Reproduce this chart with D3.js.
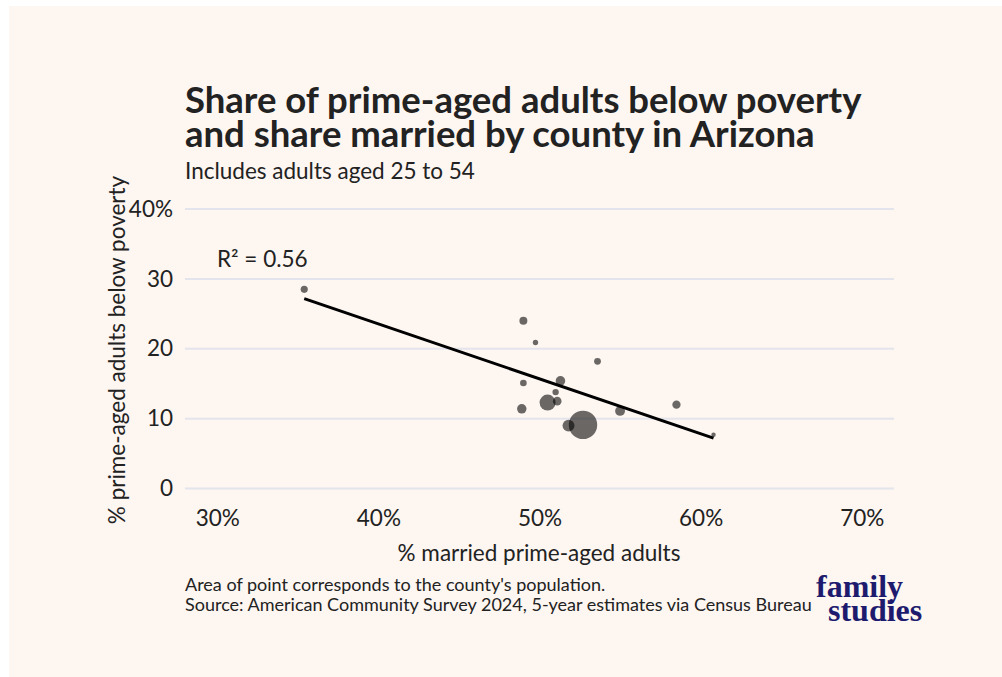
<!DOCTYPE html>
<html>
<head>
<meta charset="utf-8">
<script src="https://cdn.jsdelivr.net/npm/d3@7"></script>
<style>
  body { margin: 0; background: #fff; }
  svg text { font-family: Lato, "Open Sans", sans-serif; fill: #222; }
</style>
</head>
<body>
<div id="chart"></div>
<script>
// Arizona counties
var counties = ["Apache", "Navajo", "La Paz", "Gila", "Mohave", "Santa Cruz", "Graham", "Pima",
  "Coconino", "Yuma", "Yavapai", "Cochise", "Pinal", "Maricopa", "Greenlee"];
var married = [35.4, 49.0, 49.75, 53.6, 51.3, 49.0, 51.0, 50.5, 51.1, 48.9, 55.0, 58.5, 51.8, 52.7, 60.8];
var poverty = [28.5, 24.0, 20.9, 18.2, 15.4, 15.1, 13.8, 12.3, 12.5, 11.4, 11.1, 12.0, 9.0, 9.1, 7.7];
var population = [66000, 107000, 16000, 54000, 215000, 48000, 39000, 1050000,
  145000, 207000, 240000, 125000, 450000, 4490000, 9000];

var xTicks = [30, 40, 50, 60, 70];
var yTicks = [0, 10, 20, 30, 40];

var data = counties.map((c, i) => ({county: c, x: married[i], y: poverty[i], pop: population[i]}));

var width = 1002, height = 677;

var svg = d3.select("#chart").append("svg")
  .attr("width", width)
  .attr("height", height);

// cream panel
svg.append("rect")
  .attr("x", 9).attr("y", 6)
  .attr("width", width - 9).attr("height", height - 6)
  .attr("fill", "#fdf6f1");

var xScale = d3.scaleLinear().domain([28, 72]).range([185, 894]);
var yScale = d3.scaleLinear().domain([0, 40]).range([488.5, 209]);

var popMin = d3.min(population), popMax = d3.max(population);
var rScale = d3.scaleSqrt().domain([0, popMax - popMin]).range([0, 12]);
var radius = d => 2.2 + rScale(d.pop - popMin);

// gridlines
svg.append("g")
  .selectAll("line")
  .data(yTicks)
  .join("line")
    .attr("x1", xScale.range()[0])
    .attr("x2", xScale.range()[1])
    .attr("y1", d => yScale(d))
    .attr("y2", d => yScale(d))
    .attr("stroke", "#e4e4ec")
    .attr("stroke-width", 2);

// y axis labels
var yAxis = d3.axisLeft(yScale)
  .tickValues(yTicks)
  .tickSize(0)
  .tickPadding(12)
  .tickFormat(d => d === 40 ? d + "%" : d);

svg.append("g")
  .attr("class", "y axis")
  .attr("transform", `translate(${xScale.range()[0]},0)`)
  .call(yAxis)
  .call(g => g.select(".domain").remove())
  .selectAll("text")
    .style("font-size", "22.5px")
    .attr("fill", "#222");

// x axis labels
var xAxis = d3.axisBottom(xScale)
  .tickValues(xTicks)
  .tickSize(0)
  .tickPadding(0)
  .tickFormat(d => d + "%");

svg.append("g")
  .attr("class", "x axis")
  .attr("transform", `translate(0,510)`)
  .call(xAxis)
  .call(g => g.select(".domain").remove())
  .selectAll("text")
    .style("font-size", "22.5px")
    .attr("fill", "#222");

// points (bigger first so small ones stay visible)
svg.append("g")
  .selectAll("circle")
  .data(data.slice().sort((a, b) => b.pop - a.pop))
  .join("circle")
    .attr("cx", d => xScale(d.x))
    .attr("cy", d => yScale(d.y))
    .attr("r", radius)
    .attr("fill", "#000")
    .attr("fill-opacity", 0.58);

// least squares fit
var mx = d3.mean(data, d => d.x), my = d3.mean(data, d => d.y);
var sxy = d3.sum(data, d => (d.x - mx) * (d.y - my));
var sxx = d3.sum(data, d => (d.x - mx) * (d.x - mx));
var syy = d3.sum(data, d => (d.y - my) * (d.y - my));
var slope = sxy / sxx;
var intercept = my - slope * mx;
var r2 = sxy * sxy / (sxx * syy);
var xExt = d3.extent(data, d => d.x);

svg.append("line")
  .attr("x1", xScale(xExt[0]))
  .attr("y1", yScale(intercept + slope * xExt[0]))
  .attr("x2", xScale(xExt[1]))
  .attr("y2", yScale(intercept + slope * xExt[1]))
  .attr("stroke", "#000")
  .attr("stroke-width", 3);

svg.append("text")
  .attr("x", 217)
  .attr("y", 267)
  .style("font-size", "22.5px")
  .text("R² = " + d3.format(".2f")(r2));

// axis titles
svg.append("text")
  .attr("x", 539)
  .attr("y", 561)
  .attr("text-anchor", "middle")
  .style("font-size", "22.5px")
  .text("% married prime-aged adults");

svg.append("text")
  .attr("transform", "translate(125,350) rotate(-90)")
  .attr("text-anchor", "middle")
  .style("font-size", "22.5px")
  .text("% prime-aged adults below poverty");

// title block
var title = svg.append("text")
  .style("font-size", "36.5px")
  .style("font-weight", 700)
  .attr("fill", "#1a1a1a");
title.append("tspan").attr("x", 185).attr("y", 113).text("Share of prime-aged adults below poverty");
title.append("tspan").attr("x", 185).attr("y", 147).text("and share married by county in Arizona");

svg.append("text")
  .attr("x", 185)
  .attr("y", 179)
  .style("font-size", "22.5px")
  .attr("fill", "#333")
  .text("Includes adults aged 25 to 54");

// caption
var caption = svg.append("text")
  .style("font-size", "18px")
  .attr("fill", "#222");
caption.append("tspan").attr("x", 185).attr("y", 591).text("Area of point corresponds to the county's population.");
caption.append("tspan").attr("x", 185).attr("y", 611).text("Source: American Community Survey 2024, 5-year estimates via Census Bureau");

// logo
var logo = svg.append("text")
  .style("font-family", "'Liberation Serif', serif")
  .style("font-size", "32px")
  .style("font-weight", 700)
  .attr("fill", "#1e1b6e");
logo.append("tspan").attr("x", 816).attr("y", 597).style("fill", "#1e1b6e").text("family");
logo.append("tspan").attr("x", 828).attr("y", 621).style("fill", "#1e1b6e").text("studies");
</script>
</body>
</html>
